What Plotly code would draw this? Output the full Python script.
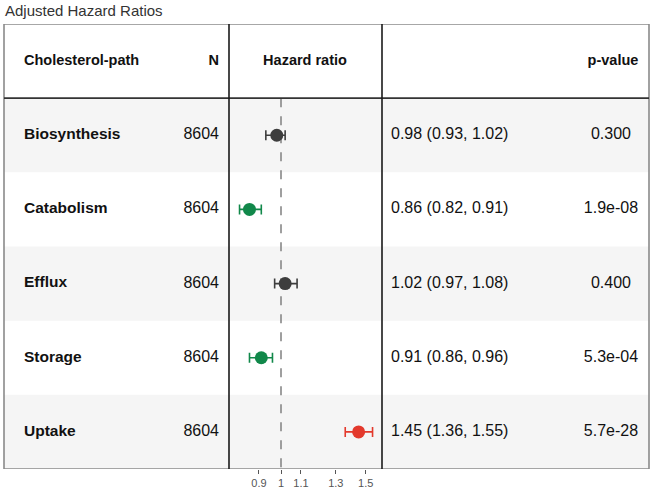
import math
import plotly.graph_objects as go

# ---- data ----
paths = ["Biosynthesis", "Catabolism", "Efflux", "Storage", "Uptake"]
n_vals = [8604, 8604, 8604, 8604, 8604]
hr = [0.98, 0.86, 1.02, 0.91, 1.45]
lo = [0.93, 0.82, 0.97, 0.86, 1.36]
hi = [1.02, 0.91, 1.08, 0.96, 1.55]
pvals = ["0.300", "1.9e-08", "0.400", "5.3e-04", "5.7e-28"]
tick_vals = [0.9, 1, 1.1, 1.3, 1.5]
tick_text = ["0.9", "1", "1.1", "1.3", "1.5"]
headers = ["Cholesterol-path", "N", "Hazard ratio", "p-value"]
title = "Adjusted Hazard Ratios"

W, H = 653, 488
FONT = "Liberation Sans, Arial, Helvetica, sans-serif"
TXT = "#111111"

rows = list(range(len(paths)))
colors = []
for h, l, u in zip(hr, lo, hi):
    if u < 1:
        colors.append("#11884a")
    elif l > 1:
        colors.append("#e3392c")
    else:
        colors.append("#3d3d3d")

fig = go.Figure()

# column x positions in table axis (pixel-like units)
X_LABEL, X_N, X_HR, X_CI, X_P = 24, 219, 305, 391, 611
X_LEFT, X_V1, X_V2, X_RIGHT = 4, 229, 382, 649

# background bands
for i in rows:
    if i % 2 == 0:
        fig.add_shape(type="rect", xref="x", yref="y", x0=X_LEFT, x1=X_RIGHT,
                      y0=i - 0.5, y1=i + 0.5, fillcolor="#f5f5f5",
                      line_width=0, layer="below")

HDR = dict(size=14.5, color=TXT, family=FONT)
LBL = dict(size=15.5, color=TXT, family=FONT)
VAL = dict(size=16, color=TXT, family=FONT)

# header text
fig.add_trace(go.Scatter(x=[X_LABEL], y=[-1], text=["<b>" + headers[0] + "</b>"],
                         mode="text", textposition="middle right", textfont=HDR,
                         xaxis="x", yaxis="y", hoverinfo="skip", showlegend=False))
fig.add_trace(go.Scatter(x=[X_N], y=[-1], text=["<b>" + headers[1] + "</b>"],
                         mode="text", textposition="middle left", textfont=HDR,
                         xaxis="x", yaxis="y", hoverinfo="skip", showlegend=False))
fig.add_trace(go.Scatter(x=[X_HR, X_P + 2], y=[-1, -1],
                         text=["<b>" + headers[2] + "</b>", "<b>" + headers[3] + "</b>"],
                         mode="text", textposition="middle center", textfont=HDR,
                         xaxis="x", yaxis="y", hoverinfo="skip", showlegend=False))

# row labels and values
fig.add_trace(go.Scatter(x=[X_LABEL] * len(rows), y=rows,
                         text=["<b>" + p + "</b>" for p in paths],
                         mode="text", textposition="middle right", textfont=LBL,
                         xaxis="x", yaxis="y", hoverinfo="skip", showlegend=False))
fig.add_trace(go.Scatter(x=[X_N] * len(rows), y=rows,
                         text=[str(n) for n in n_vals],
                         mode="text", textposition="middle left", textfont=VAL,
                         xaxis="x", yaxis="y", hoverinfo="skip", showlegend=False))
fig.add_trace(go.Scatter(x=[X_CI] * len(rows), y=rows,
                         text=[f"{h:.2f} ({l:.2f}, {u:.2f})" for h, l, u in zip(hr, lo, hi)],
                         mode="text", textposition="middle right", textfont=VAL,
                         xaxis="x", yaxis="y", hoverinfo="skip", showlegend=False))
fig.add_trace(go.Scatter(x=[X_P] * len(rows), y=rows, text=pvals,
                         mode="text", textposition="middle center", textfont=VAL,
                         xaxis="x", yaxis="y", hoverinfo="skip", showlegend=False))

# forest points with CI bars
for i in rows:
    fig.add_trace(go.Scatter(
        x=[hr[i]], y=[i], mode="markers", xaxis="x2", yaxis="y",
        marker=dict(size=13, color=colors[i]),
        error_x=dict(type="data", symmetric=False,
                     array=[hi[i] - hr[i]], arrayminus=[hr[i] - lo[i]],
                     color=colors[i], thickness=1.6, width=5),
        hoverinfo="skip", showlegend=False))

# reference dashed line at 1
fig.add_shape(type="line", xref="x2", yref="y", x0=1, x1=1, y0=-0.5, y1=4.5,
              line=dict(color="#808080", width=1.5, dash="dash"), layer="below")

# table grid lines
fig.add_shape(type="rect", xref="x", yref="y", x0=X_LEFT, x1=X_RIGHT, y0=-1.5, y1=4.5,
              line=dict(color="#8a8a8a", width=1.6), fillcolor="rgba(0,0,0,0)")
fig.add_shape(type="line", xref="x", yref="y", x0=X_LEFT, x1=X_RIGHT, y0=-0.5, y1=-0.5,
              line=dict(color="#333333", width=1.6))
for xv in (X_V1, X_V2):
    fig.add_shape(type="line", xref="x", yref="y", x0=xv, x1=xv, y0=-1.5, y1=4.5,
                  line=dict(color="#1a1a1a", width=1.6))

y_top_px, y_bot_px = 24, 469
lo_lim = 10 ** (-(281 - X_V1) / 481.0)
hi_lim = 10 ** ((X_V2 - 281) / 481.0)

fig.update_layout(
    width=W, height=H,
    margin=dict(l=0, r=0, t=0, b=0),
    paper_bgcolor="white", plot_bgcolor="rgba(0,0,0,0)",
    font=dict(family=FONT, color=TXT),
    xaxis=dict(domain=[0, 1], range=[0, W], visible=False, fixedrange=True),
    yaxis=dict(domain=[(H - y_bot_px) / H, (H - y_top_px) / H],
               range=[4.5, -1.5], visible=False, fixedrange=True),
    xaxis2=dict(domain=[X_V1 / W, X_V2 / W], type="log",
                range=[math.log10(lo_lim), math.log10(hi_lim)],
                anchor="y", showgrid=False, zeroline=False, showline=False,
                tickmode="array", tickvals=tick_vals, ticktext=tick_text,
                ticks="outside", ticklen=4, tickcolor="#555555", tickwidth=1,
                tickfont=dict(size=11, color="#555555", family=FONT),
                fixedrange=True),
    annotations=[dict(text=title, xref="paper", yref="paper", x=0.004, y=1,
                      xanchor="left", yanchor="top", showarrow=False,
                      font=dict(size=15, color="#333333", family=FONT))],
)

fig.write_html("out.html")
